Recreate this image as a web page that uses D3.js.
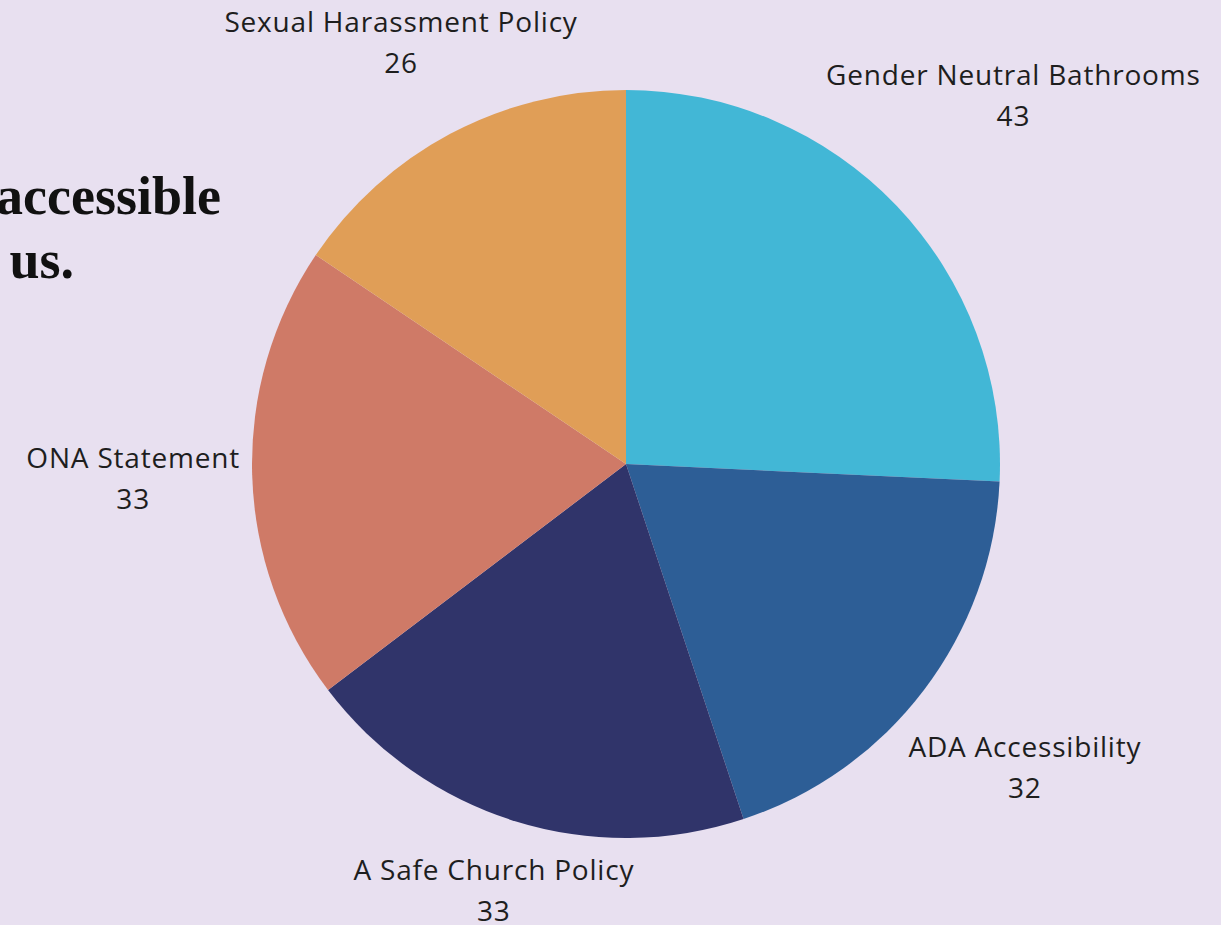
<!DOCTYPE html>
<html>
<head>
<meta charset="utf-8">
<script src="https://cdn.jsdelivr.net/npm/d3@7"></script>
<style>
  html, body { margin: 0; padding: 0; background: #E8E0F0; }
  svg { display: block; }
</style>
</head>
<body>
<svg id="chart" width="1221" height="925"></svg>
<script>
// Survey items and their counts, in clockwise order from 12 o'clock
const categories = [
  "Gender Neutral Bathrooms",
  "ADA Accessibility",
  "A Safe Church Policy",
  "ONA Statement",
  "Sexual Harassment Policy"
];
const counts = [43, 32, 33, 33, 26];
const sliceColors = ["#42B7D6", "#2D5E96", "#30346A", "#CF7A67", "#E09E57"];
const headingLines = ["accessible", "us."];

const svg = d3.select("#chart");
const W = 1221, H = 925;
const cx = 626, cy = 464, R = 374;

svg.append("rect").attr("width", W).attr("height", H).attr("fill", "#E8E0F0");

// Heading fragment on the left, running off the page edge
const heading = svg.append("g")
  .attr("font-family", "'Liberation Serif', 'DejaVu Serif', serif")
  .attr("font-weight", "bold")
  .attr("font-size", 54)
  .attr("fill", "#111");
heading.append("text").attr("x", 221).attr("y", 214).attr("text-anchor", "end").text(headingLines[0]);
heading.append("text").attr("x", 74).attr("y", 278).attr("text-anchor", "end").text(headingLines[1]);

const data = categories.map((c, i) => ({ name: c, value: counts[i], color: sliceColors[i] }));

const pie = d3.pie().value(d => d.value).sort(null);
const arc = d3.arc().innerRadius(0).outerRadius(R);
const arcs = pie(data);

const g = svg.append("g").attr("transform", `translate(${cx},${cy})`);
g.selectAll("path.slice")
  .data(arcs)
  .join("path")
  .attr("class", "slice")
  .attr("d", arc)
  .attr("fill", d => d.data.color);

// Two-line labels placed along each slice's mid-angle, pushed out until
// the label box clears the rim by a fixed gap
const gap = 12, lineGap = 41;
const labels = g.selectAll("g.label")
  .data(arcs)
  .join("g")
  .attr("class", "label")
  .attr("font-family", "'Open Sans', 'Noto Sans', sans-serif")
  .attr("font-size", 28)
  .attr("letter-spacing", 0.8)
  .attr("fill", "#1e1e1e")
  .attr("text-anchor", "middle");

labels.append("text").attr("class", "name").attr("y", 0).text(d => d.data.name);
labels.append("text").attr("class", "val").attr("y", lineGap).text(d => d.value);

labels.each(function(d) {
  const node = d3.select(this);
  const bb = this.getBBox();
  const mid = (d.startAngle + d.endAngle) / 2;
  const ux = Math.sin(mid), uy = -Math.cos(mid);
  // distance from pie centre to nearest point of box centred at (px,py)
  const boxDist = (px, py) => {
    const x0 = px + bb.x, y0 = py + bb.y;
    const dx = Math.max(x0 - 0, 0 - (x0 + bb.width), 0);
    const dy = Math.max(y0 - 0, 0 - (y0 + bb.height), 0);
    return Math.hypot(dx, dy);
  };
  let lo = 0, hi = 1200;
  for (let k = 0; k < 60; k++) {
    const m = (lo + hi) / 2;
    const px = ux * m - (bb.x + bb.width / 2);
    const py = uy * m - (bb.y + bb.height / 2);
    if (boxDist(px, py) < R + gap) lo = m; else hi = m;
  }
  const px = ux * hi - (bb.x + bb.width / 2);
  const py = uy * hi - (bb.y + bb.height / 2);
  node.attr("transform", `translate(${px},${py})`);
});
</script>
</body>
</html>
